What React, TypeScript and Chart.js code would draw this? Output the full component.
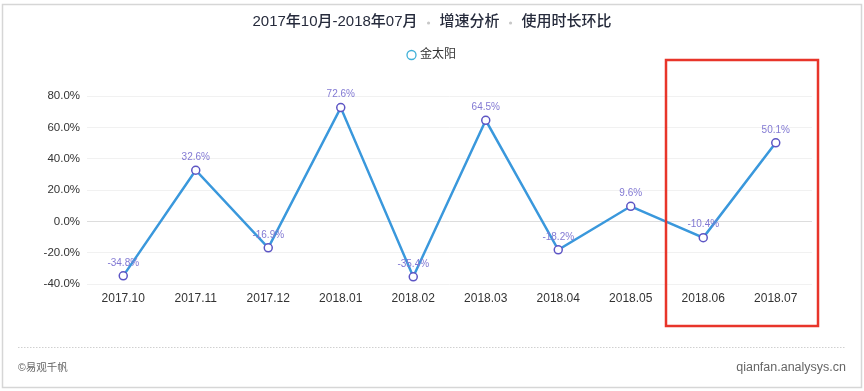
import React, { useEffect, useRef } from "react";
import { Chart, registerables } from "chart.js";

Chart.register(...registerables);

const categories = ["2017.10", "2017.11", "2017.12", "2018.01", "2018.02", "2018.03", "2018.04", "2018.05", "2018.06", "2018.07"];
const seriesName = "金太阳";
const values = [-34.8, 32.6, -16.9, 72.6, -35.4, 64.5, -18.2, 9.6, -10.4, 50.1];
const titleParts = ["2017年10月-2018年07月", "增速分析", "使用时长环比"];
const footerLeft = "©易观千帆";
const footerRight = "qianfan.analysys.cn";
const highlightFrom = 8;
const highlightTo = 9;

const FONT = '"Liberation Sans", "Noto Sans CJK SC", sans-serif';

const decorPlugin = {
  id: "decor",
  beforeDraw(chart: any) {
    const ctx = chart.ctx;
    const W = chart.width;
    const H = chart.height;
    ctx.save();
    ctx.fillStyle = "#ffffff";
    ctx.fillRect(0, 0, W, H);
    // card border
    ctx.strokeStyle = "#d6d6d6";
    ctx.lineWidth = 1.5;
    ctx.strokeRect(2.5, 4.5, W - 5, H - 8);
    // title
    ctx.font = `500 15px ${FONT}`;
    ctx.textBaseline = "middle";
    const sep = 22;
    const widths = titleParts.map((t) => ctx.measureText(t).width);
    const total = widths.reduce((a, b) => a + b, 0) + sep * (titleParts.length - 1);
    let x = W / 2 - total / 2;
    titleParts.forEach((t, i) => {
      ctx.fillStyle = "#262b3c";
      ctx.textAlign = "left";
      ctx.fillText(t, x, 22);
      x += widths[i];
      if (i < titleParts.length - 1) {
        ctx.fillStyle = "#c8c8c8";
        ctx.beginPath();
        ctx.arc(x + sep / 2, 23, 1.6, 0, Math.PI * 2);
        ctx.fill();
        x += sep;
      }
    });
    // legend
    ctx.font = `12px ${FONT}`;
    const lw = ctx.measureText(seriesName).width;
    const lx = W / 2 - (lw + 14) / 2;
    ctx.strokeStyle = "#3fb0d8";
    ctx.lineWidth = 1.3;
    ctx.beginPath();
    ctx.arc(lx + 4.5, 55, 4.5, 0, Math.PI * 2);
    ctx.stroke();
    ctx.fillStyle = "#333333";
    ctx.textAlign = "left";
    ctx.fillText(seriesName, lx + 13, 55);
    // separator
    ctx.strokeStyle = "#d0d0d0";
    ctx.lineWidth = 1;
    ctx.setLineDash([1.5, 1.5]);
    ctx.beginPath();
    ctx.moveTo(18, 347.5);
    ctx.lineTo(846, 347.5);
    ctx.stroke();
    ctx.setLineDash([]);
    // footer
    ctx.fillStyle = "#666666";
    ctx.font = `10.5px ${FONT}`;
    ctx.textAlign = "left";
    ctx.fillText(footerLeft, 18, 368);
    ctx.font = `12.5px ${FONT}`;
    ctx.textAlign = "right";
    ctx.fillText(footerRight, 846, 368);
    ctx.restore();
  },
  afterDatasetsDraw(chart: any) {
    const ctx = chart.ctx;
    const meta = chart.getDatasetMeta(0);
    ctx.save();
    ctx.font = `10px ${FONT}`;
    ctx.fillStyle = "#8279d3";
    ctx.textAlign = "center";
    ctx.textBaseline = "middle";
    meta.data.forEach((pt: any, i: number) => {
      ctx.fillText(values[i].toFixed(1) + "%", pt.x, pt.y - 13);
    });
    // highlight box
    const xs = chart.scales.x;
    const half = (xs.getPixelForValue(1) - xs.getPixelForValue(0)) / 2;
    const left = xs.getPixelForValue(highlightFrom) - half - 1;
    const right = xs.getPixelForValue(highlightTo) + half + 6;
    ctx.strokeStyle = "#e8352a";
    ctx.lineWidth = 2.5;
    ctx.strokeRect(left, 60, right - left, 266);
    ctx.restore();
  },
};

export default function App() {
  const ref = useRef<HTMLCanvasElement>(null);
  useEffect(() => {
    const chart = new Chart(ref.current!, {
      type: "line",
      data: {
        labels: categories,
        datasets: [
          {
            label: seriesName,
            data: values,
            borderColor: "#3a98dc",
            borderWidth: 2.5,
            pointRadius: 4,
            pointBorderWidth: 1.5,
            pointBackgroundColor: "#ffffff",
            pointBorderColor: "#5d55c4",
            tension: 0,
            fill: false,
          },
        ],
      },
      options: {
        animation: false,
        responsive: false,
        layout: { padding: { left: 0, right: 52, top: 96, bottom: 0 } },
        plugins: { legend: { display: false }, title: { display: false }, tooltip: { enabled: false } },
        scales: {
          x: {
            offset: true,
            grid: { display: false, drawTicks: false },
            border: { display: false },
            ticks: { color: "#333333", font: { size: 12, family: FONT }, padding: 7 },
            afterFit: (s: any) => { s.height = 107; },
          },
          y: {
            min: -40,
            max: 80,
            grid: {
              drawTicks: false,
              color: (c: any) => (c.tick && c.tick.value === 0 ? "#dddddd" : "#f1f1f1"),
            },
            border: { display: false },
            ticks: {
              stepSize: 20,
              color: "#333333",
              font: { size: 11.5, family: FONT },
              padding: 7,
              callback: (v: any) => Number(v).toFixed(1) + "%",
            },
            afterFit: (s: any) => { s.width = 87; },
          },
        },
      },
      plugins: [decorPlugin],
    });
    return () => chart.destroy();
  }, []);
  return (
    <div style={{ position: "absolute", left: 0, top: 0, width: 864, height: 391 }}>
      <canvas ref={ref} width={864} height={391} style={{ width: 864, height: 391 }} />
    </div>
  );
}
